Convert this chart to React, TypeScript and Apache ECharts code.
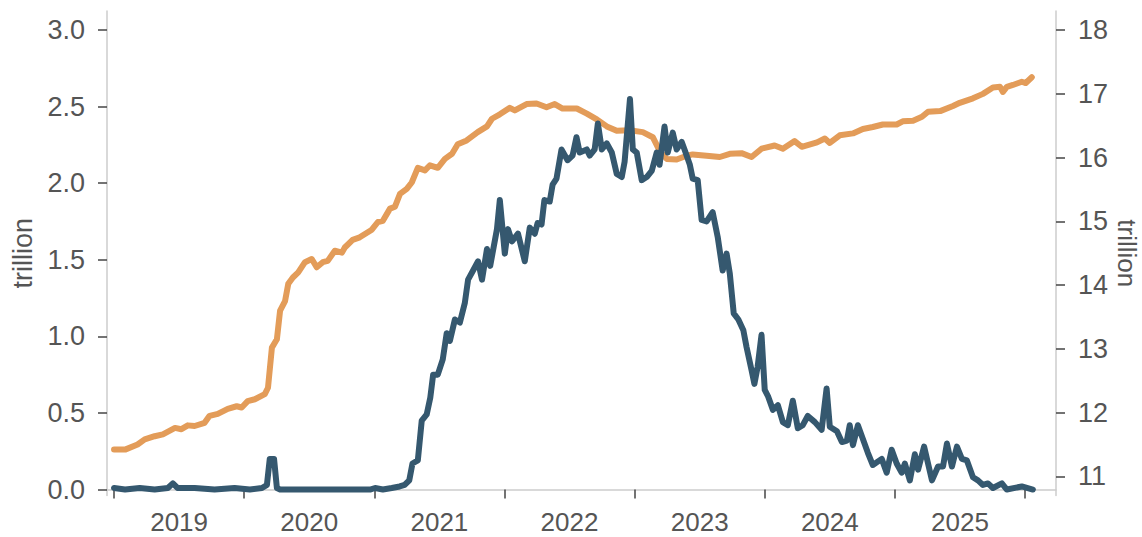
import React, { useEffect, useRef } from "react";
import * as echarts from "echarts";

// Overnight reverse repo (left axis, trillion)
const rrpDates = [
  "2019-01-01","2019-02-01","2019-03-14","2019-04-25","2019-06-01","2019-06-15","2019-06-28","2019-08-15","2019-10-10","2019-12-05",
  "2020-01-17","2020-02-20","2020-03-05","2020-03-13","2020-03-25","2020-04-02","2020-04-11","2020-12-20",
  "2021-01-03","2021-01-25","2021-02-19","2021-03-13","2021-03-27","2021-04-09","2021-04-18","2021-05-03","2021-05-14","2021-05-28",
  "2021-06-07","2021-06-15","2021-06-28","2021-07-12","2021-07-23","2021-08-01","2021-08-15","2021-08-29","2021-09-12","2021-09-21",
  "2021-10-05","2021-10-19","2021-10-30","2021-11-13","2021-11-22","2021-12-11","2021-12-19",
  "2022-01-02","2022-01-11","2022-01-22","2022-02-08","2022-02-27","2022-03-13","2022-03-27","2022-04-04","2022-04-15","2022-04-23",
  "2022-05-08","2022-05-16","2022-05-27","2022-06-10","2022-06-27","2022-07-11","2022-07-22","2022-07-31","2022-08-20","2022-08-28",
  "2022-09-11","2022-09-20","2022-10-01","2022-10-15","2022-10-29","2022-11-12","2022-11-26","2022-12-04","2022-12-19","2022-12-27",
  "2023-01-07","2023-01-21","2023-02-04","2023-02-18","2023-03-04","2023-03-12","2023-03-26","2023-04-04","2023-04-18","2023-04-29",
  "2023-05-13","2023-05-21","2023-06-05","2023-06-13","2023-06-27","2023-07-08","2023-07-22","2023-08-08","2023-08-22","2023-09-05",
  "2023-09-16","2023-09-25","2023-10-06","2023-10-19","2023-11-02","2023-11-11","2023-11-25","2023-12-03","2023-12-12","2023-12-23",
  "2024-01-01","2024-01-10","2024-01-24","2024-02-07","2024-02-21","2024-03-06","2024-03-20","2024-04-03","2024-04-17","2024-05-01",
  "2024-05-21","2024-06-09","2024-06-23","2024-07-02","2024-07-22","2024-08-05","2024-08-19","2024-08-27","2024-09-05","2024-09-19",
  "2024-10-03","2024-10-17","2024-10-31","2024-11-25","2024-12-09","2024-12-23",
  "2025-01-06","2025-01-20","2025-01-29","2025-02-12","2025-02-26","2025-03-07","2025-03-24","2025-04-15","2025-05-02","2025-05-16",
  "2025-05-27","2025-06-10","2025-06-24","2025-07-08","2025-07-22","2025-08-08","2025-08-22","2025-09-05","2025-09-19","2025-10-03",
  "2025-10-28","2025-11-11","2025-12-23","2026-01-23",
];
const rrpValues = [
  0.01,0.00,0.01,0.00,0.01,0.04,0.01,0.01,0.00,0.01,
  0.00,0.01,0.03,0.20,0.20,0.01,0.00,0.00,
  0.01,0.00,0.01,0.02,0.03,0.06,0.17,0.19,0.45,0.49,
  0.60,0.75,0.75,0.85,1.02,0.97,1.11,1.09,1.22,1.37,
  1.43,1.49,1.37,1.57,1.46,1.70,1.89,
  1.54,1.70,1.62,1.67,1.49,1.71,1.67,1.74,1.73,1.89,
  1.88,1.99,2.03,2.22,2.15,2.18,2.30,2.20,2.22,2.18,
  2.22,2.39,2.22,2.26,2.20,2.06,2.04,2.14,2.55,2.22,
  2.20,2.02,2.04,2.08,2.20,2.12,2.37,2.20,2.33,2.22,
  2.27,2.22,2.12,2.03,2.02,1.76,1.75,1.81,1.65,1.43,
  1.54,1.41,1.15,1.11,1.04,0.93,0.78,0.69,0.80,1.01,
  0.65,0.61,0.52,0.55,0.44,0.42,0.58,0.40,0.42,0.48,
  0.44,0.39,0.66,0.41,0.38,0.31,0.32,0.42,0.29,0.42,
  0.33,0.24,0.16,0.20,0.11,0.26,
  0.17,0.11,0.17,0.06,0.23,0.13,0.28,0.06,0.15,0.15,
  0.30,0.15,0.28,0.20,0.19,0.08,0.06,0.03,0.04,0.01,
  0.04,0.00,0.02,0.00,
];

// Bank deposits (right axis, trillion)
const depDates = [
  "2019-01-01","2019-02-01","2019-03-08","2019-03-28","2019-04-25","2019-05-18","2019-06-21","2019-07-09","2019-07-27","2019-08-15",
  "2019-09-12","2019-09-26","2019-10-19","2019-11-16","2019-12-11","2019-12-25",
  "2020-01-11","2020-01-31","2020-02-28","2020-03-08","2020-03-19","2020-04-02","2020-04-11","2020-04-25","2020-05-04","2020-05-17",
  "2020-06-01","2020-06-20","2020-07-09","2020-07-23","2020-08-09","2020-08-23","2020-09-12","2020-10-02","2020-10-10","2020-11-01",
  "2020-11-21","2020-12-25",
  "2021-01-11","2021-01-25","2021-02-14","2021-02-28","2021-03-14","2021-04-02","2021-04-16","2021-05-03","2021-05-23","2021-06-06",
  "2021-06-28","2021-07-18","2021-08-07","2021-08-23","2021-09-17","2021-10-18","2021-11-13","2021-11-27","2021-12-19",
  "2022-01-16","2022-01-30","2022-03-04","2022-04-01","2022-04-29","2022-05-22","2022-06-13","2022-07-23","2022-08-20","2022-09-17",
  "2022-10-15","2022-11-12","2022-12-18",
  "2023-01-24","2023-02-21","2023-03-12","2023-04-01","2023-04-29","2023-05-27","2023-06-13","2023-07-22","2023-08-28","2023-09-25",
  "2023-10-28","2023-11-25","2023-12-23",
  "2024-01-29","2024-02-21","2024-03-25","2024-04-14","2024-05-27","2024-06-18","2024-07-02","2024-07-30","2024-09-05","2024-10-03",
  "2024-10-31","2024-11-28",
  "2025-01-06","2025-01-23","2025-02-21","2025-03-18","2025-04-04","2025-05-08","2025-06-13","2025-07-02","2025-08-08","2025-09-05",
  "2025-10-03","2025-10-23","2025-10-31","2025-11-11","2025-11-28","2025-12-23","2026-01-03","2026-01-20",
];
const depValues = [
  11.42,11.42,11.50,11.58,11.63,11.66,11.76,11.74,11.80,11.79,
  11.84,11.95,11.98,12.06,12.10,12.08,
  12.18,12.21,12.29,12.39,13.02,13.15,13.60,13.75,14.02,14.12,
  14.20,14.36,14.41,14.28,14.36,14.38,14.54,14.51,14.59,14.71,
  14.75,14.87,
  14.99,15.01,15.20,15.23,15.43,15.51,15.61,15.84,15.80,15.88,
  15.84,15.98,16.06,16.21,16.27,16.40,16.49,16.61,16.68,
  16.78,16.74,16.84,16.85,16.79,16.84,16.77,16.77,16.69,16.60,
  16.49,16.42,16.43,
  16.40,16.32,16.11,15.98,15.97,16.03,16.05,16.03,16.01,16.06,
  16.07,16.01,16.14,
  16.19,16.14,16.26,16.17,16.24,16.30,16.23,16.35,16.38,16.45,
  16.48,16.52,
  16.52,16.57,16.58,16.64,16.72,16.73,16.81,16.86,16.93,17.00,
  17.10,17.11,17.03,17.11,17.14,17.19,17.17,17.26,
];

const yearTicks = [2019, 2020, 2021, 2022, 2023, 2024, 2025, 2026];
const yearLabels = ["2019", "2020", "2021", "2022", "2023", "2024", "2025"];
const leftTicks = [0, 0.5, 1.0, 1.5, 2.0, 2.5, 3.0];
const rightTicks = [11, 12, 13, 14, 15, 16, 17, 18];

function toYear(d: string): number {
  const [y, m, day] = d.split("-").map(Number);
  const start = Date.UTC(y, 0, 1);
  const end = Date.UTC(y + 1, 0, 1);
  return y + (Date.UTC(y, m - 1, day) - start) / (end - start);
}

const LABEL = "#555555";
const FONT = "'Liberation Sans', Arial, sans-serif";

export default function App() {
  const ref = useRef<HTMLDivElement>(null);
  useEffect(() => {
    if (!ref.current) return;
    const chart = echarts.init(ref.current, undefined, { renderer: "svg" });
    const rrp = rrpDates.map((d, i) => [toYear(d), rrpValues[i]]);
    const dep = depDates.map((d, i) => [toYear(d), depValues[i]]);
    const labelPos = yearLabels.map((s) => Number(s) + 0.5);
    chart.setOption({
      animation: false,
      textStyle: { fontFamily: FONT },
      grid: { left: 107, right: 86, top: 11, bottom: 41.5, containLabel: false, outerBoundsMode: "none" },
      xAxis: {
        type: "value",
        min: 2018.946,
        max: 2026.238,
        axisLine: { show: true, lineStyle: { color: "#cccccc", width: 1.5 } },
        splitLine: { show: false },
        axisTick: {
          show: true,
          customValues: yearTicks,
          length: 9,
          lineStyle: { color: "#444444", width: 1.5 },
        },
        axisLabel: {
          customValues: labelPos,
          formatter: (v: number) => String(Math.floor(v)),
          color: LABEL,
          fontSize: 26,
          lineHeight: 26,
          fontFamily: FONT,
          margin: 13.5,
        },
      },
      yAxis: [
        {
          type: "value",
          position: "left",
          min: -0.039,
          max: 3.124,
          name: "trillion",
          nameLocation: "middle",
          nameGap: 72,
          nameRotate: 90,
          nameTextStyle: { color: LABEL, fontSize: 27, lineHeight: 24, fontFamily: FONT },
          axisLine: { show: true, lineStyle: { color: "#cccccc", width: 1.5 } },
          splitLine: { show: false },
          axisTick: {
            show: true,
            customValues: leftTicks,
            length: 9,
            lineStyle: { color: "#444444", width: 1.5 },
          },
          axisLabel: {
            customValues: leftTicks,
            formatter: (v: number) => v.toFixed(1),
            color: LABEL,
            fontSize: 27,
            fontFamily: FONT,
            margin: 22,
          },
        },
        {
          type: "value",
          position: "right",
          min: 10.7,
          max: 18.3,
          name: "trillion",
          nameLocation: "middle",
          nameGap: 60,
          nameMoveOverlap: false,
          nameRotate: -90,
          nameTextStyle: { color: LABEL, fontSize: 26, lineHeight: 22, fontFamily: FONT },
          axisLine: { show: true, lineStyle: { color: "#cccccc", width: 1.5 } },
          splitLine: { show: false },
          axisTick: {
            show: true,
            customValues: rightTicks,
            length: 9,
            lineStyle: { color: "#444444", width: 1.5 },
          },
          axisLabel: {
            customValues: rightTicks,
            formatter: (v: number) => String(v),
            color: LABEL,
            fontSize: 27,
            fontFamily: FONT,
            margin: 22,
          },
        },
      ],
      series: [
        {
          name: "Deposits",
          type: "line",
          yAxisIndex: 1,
          data: dep,
          showSymbol: false,
          lineStyle: { color: "#e39c59", width: 6, join: "round", cap: "round" },
          itemStyle: { color: "#e39c59" },
        },
        {
          name: "Reverse repo",
          type: "line",
          yAxisIndex: 0,
          data: rrp,
          showSymbol: false,
          lineStyle: { color: "#35586f", width: 6, join: "round", cap: "round" },
          itemStyle: { color: "#35586f" },
        },
      ],
    });
    return () => chart.dispose();
  }, []);
  return (
    <div
      ref={ref}
      style={{ position: "fixed", left: 0, top: 0, width: 1142, height: 537, background: "#ffffff" }}
    />
  );
}
